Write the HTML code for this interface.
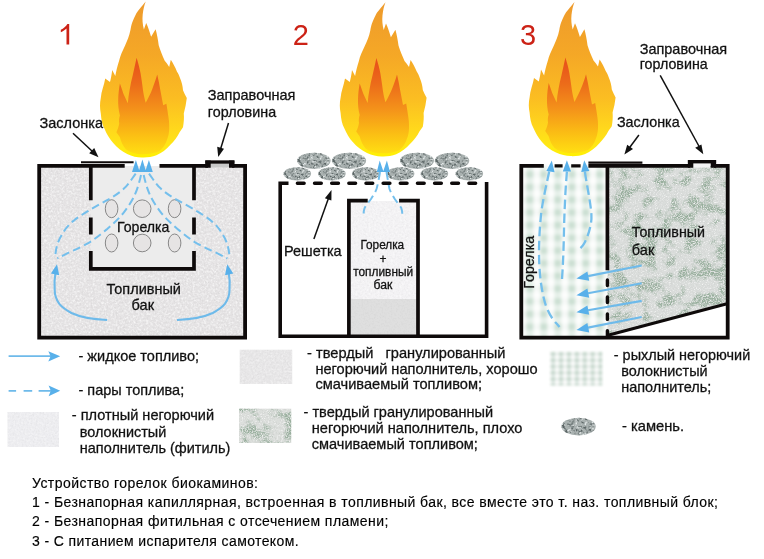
<!DOCTYPE html>
<html>
<head>
<meta charset="utf-8">
<style>
html,body{margin:0;padding:0;background:#fff;}
body{width:764px;height:559px;overflow:hidden;}
svg{display:block;will-change:transform;}
text{font-family:"Liberation Sans",sans-serif;fill:#111;stroke:#111;stroke-width:0.28px;}
.lbl{font-size:14.3px;}
.leg{font-size:14.5px;}
.cap{font-size:14px;fill:#000;stroke:#000;stroke-width:0.15px;}
.num{font-size:29px;fill:#cc2216;stroke:none;}
.w{stroke:#0e0a0a;stroke-width:4;fill:none;stroke-linecap:butt;}
.bd{stroke:#74bfec;stroke-width:2;fill:none;stroke-dasharray:8 4.2;}
.bs{stroke:#6ebaea;stroke-width:2.1;fill:none;}
.ah{fill:#58b0ea;}
.ar{stroke:#111;stroke-width:1.5;fill:none;}
</style>
</head>
<body>
<svg width="764" height="559" viewBox="0 0 764 559">
<defs>
  <linearGradient id="gOut" x1="0" y1="2" x2="0" y2="157" gradientUnits="userSpaceOnUse">
    <stop offset="0" stop-color="#ee9a2c"/>
    <stop offset="0.35" stop-color="#f5a826"/>
    <stop offset="0.62" stop-color="#fbbd22"/>
    <stop offset="0.82" stop-color="#ffd81c"/>
    <stop offset="0.94" stop-color="#ffe914"/>
    <stop offset="1" stop-color="#fff000"/>
  </linearGradient>
  <linearGradient id="gIn" x1="0" y1="58" x2="0" y2="152" gradientUnits="userSpaceOnUse">
    <stop offset="0" stop-color="#e74e1a"/>
    <stop offset="0.28" stop-color="#ec6c1a"/>
    <stop offset="0.55" stop-color="#f4931a"/>
    <stop offset="0.8" stop-color="#fbbd14"/>
    <stop offset="1" stop-color="#ffdc12"/>
  </linearGradient>
  <g id="flame">
    <path fill="url(#gOut)" d="M385.5,2.3 C381,8 377,12 375.6,15.2 C372,22 371,26 370.3,30.4 C369,37 367,41 365,45.6 C362,52 360,56 358.9,60.9 C357,67 356,71 355.1,76 L352,70 C351.5,75 350.5,79 349.8,82 L345,78.4 C344,85 341,91 340.6,97.8 C339.5,103 339.6,108 340.6,113 C341,119 342,124 344.3,128.2 C346.5,133.5 349.3,138.2 353,142.3 C356.8,146.8 361.5,150.4 367,153 C371.8,155.3 376.8,156.5 381.7,156.5 C386.8,156.7 391.6,156 396.2,154.3 C401.5,152 406.2,148.3 410.2,143.8 C414,140.2 417,136.2 419.4,131.5 L422.8,126.7 C423.6,122 424,117.5 423.6,113 C425,108 426,103 426.6,97.8 C425,95 423.8,92.5 422.8,90 C422.5,86 421.5,82 419.8,78 C419,75.5 418,73.5 416.7,71.5 C415,67.5 413,63.5 410.6,60 L409,67 C407.5,64.5 406,62.5 404.5,60.9 C402,55.5 400,50.5 398.5,45.6 C397.8,40 396.8,34.5 395.4,29.7 L390.9,37.3 C389.5,32.5 388,28 386,23.6 L383.7,30 C382.4,25 382,20 382.5,15.2 C383,10.5 384,6 385.5,2.3 Z"/>
    <path fill="url(#gIn)" d="M376.4,57.9 C378,63 379.5,68.5 380.4,73.6 C381.3,79 382.2,85 382.9,90.7 C383.6,95 384.5,99 385.5,102.3 C388,97.5 390.5,93 392,89 C394,84 395.8,79 397,74.6 C398.2,79.5 399.2,84.5 400,89.4 C401,94.5 402,100 403,105 L406.2,103.5 C406.8,107.5 407.5,111 408,115 C408.8,119.5 409.2,124 409,128.7 C408.8,132.5 408.2,135.8 407,138.6 C405.5,143.5 402.8,147.5 399,150.4 C393,152.8 386.5,153.6 379.4,153.3 C374,152.8 369.5,151.2 365.6,148.4 C362.8,145.2 360.8,141.2 359.7,136.6 L356.2,131.5 C357.5,129 358.5,126 359,123 C358.6,120.5 358.8,117.5 359.7,115 C358.4,110 357.8,104.5 358,99 C358.2,93.5 358.8,88.5 359.7,83.5 C361,87 362.2,90.5 363.2,93.5 C364.8,97 366.3,100 367.6,103 C368,98.5 368.6,94 369.5,89.4 C370.3,84.5 371.3,80 372.5,75.6 C373.8,69.5 375.2,63.5 376.4,57.9 Z"/>
  </g>
  <filter color-interpolation-filters="sRGB" id="spk" x="0" y="0" width="100%" height="100%">
    <feTurbulence type="fractalNoise" baseFrequency="0.55" numOctaves="2" seed="3" result="n"/>
    <feColorMatrix type="matrix" values="0 0 0 0 0.55  0 0 0 0 0.55  0 0 0 0 0.55  1.8 0 0 0 -0.78"/>
    <feComposite operator="in" in2="SourceGraphic"/>
  </filter>
  <filter color-interpolation-filters="sRGB" id="spkW" x="0" y="0" width="100%" height="100%">
    <feTurbulence type="fractalNoise" baseFrequency="0.45" numOctaves="2" seed="8" result="n"/>
    <feColorMatrix type="matrix" values="0 0 0 0 1  0 0 0 0 1  0 0 0 0 1  2.2 0 0 0 -0.95"/>
    <feComposite operator="in" in2="SourceGraphic"/>
  </filter>
  <filter color-interpolation-filters="sRGB" id="spkG" x="0" y="0" width="100%" height="100%">
    <feTurbulence type="fractalNoise" baseFrequency="0.07 0.075" numOctaves="3" seed="5" result="lo"/>
    <feColorMatrix in="lo" type="matrix" values="0 0 0 0 0.60  0 0 0 0 0.69  0 0 0 0 0.62  4.5 0 0 0 -2.0" result="loA"/>
    <feTurbulence type="fractalNoise" baseFrequency="0.8" numOctaves="2" seed="21" result="hi"/>
    <feColorMatrix in="hi" type="matrix" values="0 0 0 0 0.60  0 0 0 0 0.69  0 0 0 0 0.62  0 4 0 0 -1.2" result="hiA"/>
    <feComposite in="hiA" in2="loA" operator="in" result="blot"/>
    <feTurbulence type="fractalNoise" baseFrequency="0.85" numOctaves="2" seed="33" result="w"/>
    <feColorMatrix in="w" type="matrix" values="0 0 0 0 0.97  0 0 0 0 0.97  0 0 0 0 0.97  0 0 3 0 -1.55" result="wA"/>
    <feMerge result="m"><feMergeNode in="blot"/><feMergeNode in="wA"/></feMerge>
    <feComposite in="m" in2="SourceGraphic" operator="in"/>
  </filter>
  <filter color-interpolation-filters="sRGB" id="spkD" x="0" y="0" width="100%" height="100%">
    <feTurbulence type="fractalNoise" baseFrequency="0.7" numOctaves="2" seed="11" result="n"/>
    <feColorMatrix type="matrix" values="0 0 0 0 0.25  0 0 0 0 0.28  0 0 0 0 0.27  3 0 0 0 -1.3"/>
    <feComposite operator="in" in2="SourceGraphic"/>
  </filter>
  <pattern id="plaid" x="526.4" y="171.3" width="14" height="12.7" patternUnits="userSpaceOnUse">
    <rect width="14" height="12.7" fill="#fcfdfc"/>
    <rect x="0" y="0" width="6.8" height="12.7" fill="#e6f0e9"/>
    <rect x="0" y="0" width="14" height="6.2" fill="#d5e5da" opacity="0.2"/>
    <rect x="0" y="0" width="6.8" height="6.2" fill="#bad6c4" opacity="0.6"/>
  </pattern>
  <filter color-interpolation-filters="sRGB" id="blur1" x="-5%" y="-5%" width="110%" height="110%"><feGaussianBlur stdDeviation="1.6"/></filter>
  <pattern id="plaid2" x="551.2" y="352.4" width="7.9" height="6.3" patternUnits="userSpaceOnUse">
    <rect width="7.9" height="6.3" fill="#fafbfa"/>
    <rect x="0" y="0" width="3.9" height="6.3" fill="#e0eae4"/>
    <rect x="0" y="0" width="7.9" height="3.1" fill="#c9d8cf" opacity="0.35"/>
    <rect x="0" y="0" width="3.9" height="3.1" fill="#b9cdc2" opacity="0.5"/>
  </pattern>
  <filter color-interpolation-filters="sRGB" id="blur2" x="-5%" y="-5%" width="110%" height="110%"><feGaussianBlur stdDeviation="0.8"/></filter>
  <filter color-interpolation-filters="sRGB" id="stn" x="0" y="0" width="100%" height="100%">
    <feTurbulence type="fractalNoise" baseFrequency="0.38" numOctaves="2" seed="7" result="n"/>
    <feColorMatrix in="n" type="matrix" values="0 0 0 0 0.36  0 0 0 0 0.40  0 0 0 0 0.40  5 0 0 0 -2.45" result="dk"/>
    <feColorMatrix in="n" type="matrix" values="0 0 0 0 0.88  0 0 0 0 0.90  0 0 0 0 0.90  0 -5 0 0 2.25" result="lt"/>
    <feMerge result="m"><feMergeNode in="dk"/><feMergeNode in="lt"/></feMerge>
    <feComposite in="m" in2="SourceGraphic" operator="in"/>
  </filter>
  <g id="stone">
    <ellipse rx="13.5" ry="7" fill="#a9b1b0"/>
    <ellipse rx="13.5" ry="7" fill="#000" filter="url(#stn)"/>
  </g>
</defs>

<!-- ================= DIAGRAM 1 ================= -->
<g id="d1">
  <rect x="39" y="166" width="206" height="172" fill="#e5e3e4"/>
  <rect x="39" y="166" width="206" height="172" fill="#fff" filter="url(#spkW)" opacity="0.8"/>
  <rect x="39" y="166" width="206" height="172" fill="#000" filter="url(#spk)" opacity="0.14"/>
  <rect x="91" y="166" width="103" height="103" fill="#ececec"/>
  <!-- filler neck -->
  <rect x="209" y="163" width="22" height="4.4" fill="#c9c9c9"/>
  <!-- ellipses -->
  <g fill="#e6e4e4" stroke="#7d7d7d" stroke-width="0.9">
    <ellipse cx="111.6" cy="208.7" rx="6.3" ry="9"/>
    <ellipse cx="142.2" cy="208.7" rx="8.8" ry="8.8"/>
    <ellipse cx="174.6" cy="208.7" rx="6.3" ry="9"/>
    <ellipse cx="111.6" cy="243" rx="6.3" ry="9"/>
    <ellipse cx="142.2" cy="243" rx="8.8" ry="8.8"/>
    <ellipse cx="174.6" cy="243" rx="6.3" ry="9"/>
  </g>
  <!-- vapour dashed paths -->
  <path class="bd" d="M135.7,173.6 C131,180 128,185 123.9,188.6 C118,194 112,197.5 106.7,200.4 C101,203.5 95,207 89.6,210.1 C84,213.5 78,217 73.4,220.9 C69.5,224 66,228 63.8,231.6 C61,236 58.5,240.5 57.3,244.5 C56,249 55.4,253 55.2,257.4"/>
  <path class="bd" d="M141,175 C139,184 137,190 134.7,195 C132,201 128,207 123.9,212.3 C119,218.5 113,224 106.7,229.4 C101,234 95.5,238.5 89.6,242.3 C84,245.5 78,248.5 72.4,250.9 C67,253.5 62,256 57.3,258.4"/>
  <path class="bd" d="M149.0,173.6 C153.7,180 156.7,185 160.8,188.6 C166.7,194 172.7,197.5 178.0,200.4 C183.7,203.5 189.7,207 195.1,210.1 C200.7,213.5 206.7,217 211.3,220.9 C215.2,224 218.7,228 220.9,231.6 C223.7,236 226.2,240.5 227.4,244.5 C228.7,249 229.3,253 229.5,257.4"/>
  <path class="bd" d="M143.7,175 C145.7,184 147.7,190 150.0,195 C152.7,201 156.7,207 160.8,212.3 C165.7,218.5 171.7,224 178.0,229.4 C183.7,234 189.2,238.5 195.1,242.3 C200.7,245.5 206.7,248.5 212.3,250.9 C217.7,253.5 222.7,256 227.4,258.4"/>
  <!-- arrowheads top -->
  <path class="ah" d="M135.9,160 L139.7,172 L132,172 Z M142.4,159.6 L146.2,172 L138.6,172 Z M148.9,160 L152.8,172 L145.1,172 Z"/>
  <!-- liquid arrows -->
  <path class="bs" d="M107.2,320 C95,319.5 80,317 71.5,313 C65,309.5 61,306 59.3,303.9 C56,299 54.7,294 54.7,290.2 C54.2,284 54.5,278 55.4,273.5"/>
  <path class="ah" d="M57,264.2 L59.2,275.2 L50.9,273.6 Z"/>
  <path class="bs" d="M177.0,320 C189.2,319.5 204.2,317 212.7,313 C219.2,309.5 223.2,306 224.9,303.9 C228.2,299 229.5,294 229.5,290.2 C230.0,284 229.7,278 228.8,273.5"/>
  <path class="ah" d="M227.2,264.2 L225,275.2 L233.3,273.6 Z"/>
  <!-- walls -->
  <path class="w" d="M124.7,165.8 L39.2,165.8 L39.2,337.7 L245.1,337.7 L245.1,165.8 L232,165.8 M208,165.8 L159.5,165.8" style="stroke-width:3.8"/>
  <path class="w" d="M205.3,162 L234.4,162" style="stroke-width:3.3"/>
  <path class="w" d="M208,160.4 L208,167.7 M231.7,160.4 L231.7,167.7" style="stroke-width:5.4"/>
  <path class="w" d="M81,162.3 L133.6,162.3" style="stroke-width:2.1"/>
  <path class="w" d="M90.8,166 L90.8,200.2 M90.8,217.5 L90.8,234.4 M90.8,250.9 L90.8,270.7 M194,166 L194,200.2 M194,217.5 L194,234.4 M194,250.9 L194,270.7 M89,268.9 L195.8,268.9" style="stroke-width:3.7"/>
  <text class="lbl" x="117" y="231.7" textLength="52.5" lengthAdjust="spacingAndGlyphs">Горелка</text>
  <text class="lbl" x="106.6" y="294.2" textLength="74.3" lengthAdjust="spacingAndGlyphs">Топливный</text>
  <text class="lbl" x="131.6" y="310" textLength="22.5" lengthAdjust="spacingAndGlyphs">бак</text>
</g>
<use href="#flame" transform="translate(-239.8,-0.9) scale(1,1.012)"/>
<path fill="#cc2216" d="M69.2,44.4 L66.5,44.4 L66.5,28.6 C65,30.1 63,31.4 60.8,32.3 L60.8,29.8 C63.5,28.5 66,26.3 67.4,23.9 L69.2,23.9 Z"/>
<text class="lbl" x="39.5" y="127.5" textLength="63.5" lengthAdjust="spacingAndGlyphs">Заслонка</text>
<path class="ar" d="M73,133.2 L96,154.8"/>
<path d="M98.5,157.2 L89.2,153.2 L94.2,148 Z" fill="#111"/>
<text class="lbl" x="207.8" y="100.2" textLength="87.6" lengthAdjust="spacingAndGlyphs">Заправочная</text>
<text class="lbl" x="207.8" y="116.7" textLength="68.3" lengthAdjust="spacingAndGlyphs">горловина</text>
<path class="ar" d="M228.5,123 L219.2,153.5"/>
<path d="M218.2,157 L217.2,146.8 L224,148.8 Z" fill="#111"/>

<!-- ================= DIAGRAM 2 ================= -->
<g id="d2">
  <rect x="351" y="201" width="66" height="100" fill="#f3f2f4"/>
  <rect x="351" y="201" width="66" height="100" fill="#000" filter="url(#spk)" opacity="0.1"/>
  <rect x="351" y="201" width="66" height="100" fill="#fff" filter="url(#spkW)" opacity="0.6"/>
  <rect x="351" y="299" width="66" height="38" fill="#dfdfdf"/>
  <rect x="351" y="299" width="66" height="38" fill="#000" filter="url(#spk)" opacity="0.1"/>
  <!-- stones -->
  <g transform="translate(313.9,160.8) scale(1.24,1.16)"><use href="#stone"/></g>
  <g transform="translate(349,160.8) scale(1.27,1.16)"><use href="#stone"/></g>
  <g transform="translate(417,160.8) scale(1.26,1.16)"><use href="#stone"/></g>
  <g transform="translate(452,160.8) scale(1.28,1.16)"><use href="#stone"/></g>
  <g transform="translate(297.3,173.8) scale(1.02,0.95)"><use href="#stone"/></g>
  <g transform="translate(331.9,173.8) scale(1.02,0.95)"><use href="#stone"/></g>
  <g transform="translate(365.7,173.8) scale(1.02,0.95)"><use href="#stone"/></g>
  <g transform="translate(400.6,173.8) scale(1.02,0.95)"><use href="#stone"/></g>
  <g transform="translate(434.4,173.8) scale(1.02,0.95)"><use href="#stone"/></g>
  <g transform="translate(469.3,173.8) scale(1.02,0.95)"><use href="#stone"/></g>
  <!-- vapour -->
  <path class="bd" d="M380,172 C379,178 378,184 376.5,189 C375,193 373,196 371,199 C368,203 365.5,206 364.6,208 C363.5,211 363.5,214 364,217" style="stroke-dasharray:8 4.5"/>
  <path class="bd" d="M386.5,172 C387.5,178 388.5,184 389.5,189 C391,193 393,196 394.8,199 C397.5,203 400,206 401.3,208 C402.3,211 402.5,214 402,217" style="stroke-dasharray:8 4.5"/>
  <path class="ah" d="M379.7,160.6 L383.6,172 L376.8,172 Z M386.9,160.6 L390,172 L383,172 Z"/>
  <!-- walls -->
  <path class="w" d="M288.5,183.2 L280.2,183.2 L280.2,336.2 L486.6,336.2 L486.6,182" style="stroke-width:3.6"/>
  <path class="w" d="M297.4,183.2 L483,183.2" style="stroke-width:3.5;stroke-dasharray:6.7 10.45;stroke-linecap:round"/>
  <path class="w" d="M367.7,200.6 L348.9,200.6 L348.9,336 M399.1,200.6 L418,200.6 L418,336" style="stroke-width:3.7"/>
  <text x="360.4" y="248.8" font-size="12" textLength="43.8" lengthAdjust="spacingAndGlyphs">Горелка</text>
  <text x="383" y="263" font-size="12" text-anchor="middle">+</text>
  <text x="353.2" y="276" font-size="12" textLength="60" lengthAdjust="spacingAndGlyphs">топливный</text>
  <text x="373.6" y="288.9" font-size="12" textLength="18.8" lengthAdjust="spacingAndGlyphs">бак</text>
  <text class="lbl" x="284" y="256" textLength="57.6" lengthAdjust="spacingAndGlyphs">Решетка</text>
  <path class="ar" d="M313.9,239.1 L329.1,196.6"/>
  <path d="M331.5,190 L331.4,200.6 L324.9,198.3 Z" fill="#111"/>
</g>
<use href="#flame"/>
<text class="num" x="292.8" y="44.8">2</text>

<!-- ================= DIAGRAM 3 ================= -->
<g id="d3">
  <rect x="521" y="166" width="87" height="172" fill="url(#plaid)" filter="url(#blur1)"/>
  <path d="M607.5,166 L728,166 L728,303.8 L607.5,336.5 Z" fill="#dadddb"/>
  <path d="M607.5,166 L728,166 L728,303.8 L607.5,336.5 Z" fill="#fff" filter="url(#spkG)" opacity="1"/>
  <path d="M607.5,166 L728,166 L728,303.8 L607.5,336.5 Z" fill="#000" filter="url(#spk)" opacity="0.15"/>
  <rect x="693" y="163" width="17" height="4.6" fill="#f4f4f4"/>
  <!-- vapour -->
  <path class="bd" d="M549.2,171.6 C547.5,180 546,186 544.6,193.2 C543,201 541.8,208 541,214.8 C539.5,230 538.6,248 539.2,262 C539.8,278 542,294 546,306 C549,314 553,320 557,324 L559.5,327" style="stroke-width:2.3;stroke-dasharray:9.5 4.5"/>
  <path class="bd" d="M566.9,171.6 C566.3,180 565.8,186 565.4,193.2 C564.8,206 564.2,218 564,230 C563.7,245 563.2,262 562,279" style="stroke-width:2.3;stroke-dasharray:9.5 4.5"/>
  <path class="bd" d="M584.9,171.6 C586,180 587.3,186 588.5,193.2 C589.8,201 591,208 591.4,214.8 C591.6,219 591.3,222 590.6,225 C589.5,231 587.5,237 585,242 C583.5,245 581.5,247.5 579,249.5" style="stroke-width:2.3;stroke-dasharray:9.5 4.5"/>
  <path class="ah" d="M551.8,160.6 L554.6,172.2 L546.4,171 Z M566.9,160.2 L571,171.4 L562.8,171.4 Z M584.2,160.2 L589.4,171 L581.2,172 Z"/>
  <!-- liquid arrows -->
  <g>
    <path class="bs" d="M641.7,265.5 L588,276.1"/><path class="ah" d="M576.4,278.4 L587.4,271.4 L589.2,280.8 Z"/>
    <path class="bs" d="M641.7,283.2 L588,293.2"/><path class="ah" d="M576.4,295.3 L587.4,288.4 L589.2,297.8 Z"/>
    <path class="bs" d="M641.7,300.9 L588,310.2"/><path class="ah" d="M576.4,312.2 L587.4,305.4 L589.2,314.8 Z"/>
    <path class="bs" d="M641.7,317 L588,327.6"/><path class="ah" d="M576.4,329.9 L587.4,323 L589.2,332.4 Z"/>
  </g>
  <!-- walls -->
  <path class="w" d="M543.8,165.8 L521.3,165.8 L521.3,337.7 L727.7,337.7 L727.7,165.8 L714,165.8 M690,165.8 L588.4,165.8" style="stroke-width:3.8"/>
  <path class="w" d="M554.6,165.8 L562.6,165.8 M571.2,165.8 L580.6,165.8" style="stroke-width:3.2"/>
  <path class="w" d="M607.4,166 L607.4,270.3" style="stroke-width:3.7"/>
  <path class="w" d="M607.4,280 L607.4,285.6 M607.4,297 L607.4,302.5 M607.4,313.9 L607.4,319.4 M607.4,330.7 L607.4,336" style="stroke-width:3.4;stroke-linecap:round"/>
  <path class="w" d="M608,335.2 L727,303.8" style="stroke-width:3"/>
  <path class="w" d="M588.4,162.7 L642.4,162.7" style="stroke-width:2.2"/>
  <path class="w" d="M687.9,161.7 L716.1,161.7" style="stroke-width:3.4"/>
  <path class="w" d="M690.6,160 L690.6,167.7 M713.4,160 L713.4,167.7" style="stroke-width:5.4"/>
  <text class="lbl" x="631.8" y="237" textLength="73.2" lengthAdjust="spacingAndGlyphs">Топливный</text>
  <text class="lbl" x="631.8" y="254.7" textLength="22.5" lengthAdjust="spacingAndGlyphs">бак</text>
  <text class="lbl" transform="translate(534.4,288.8) rotate(-90)" textLength="53" lengthAdjust="spacingAndGlyphs">Горелка</text>
</g>
<use href="#flame" transform="translate(189,-0.4)"/>
<text class="num" x="520" y="44.5">3</text>
<text class="lbl" x="639.7" y="53.5" textLength="87.4" lengthAdjust="spacingAndGlyphs">Заправочная</text>
<text class="lbl" x="639.7" y="68.8" textLength="68" lengthAdjust="spacingAndGlyphs">горловина</text>
<path class="ar" d="M660.2,75.4 L701.6,151"/>
<path d="M703.3,154.2 L695.2,147.8 L701.4,144.4 Z" fill="#111"/>
<text class="lbl" x="616.9" y="127.3" textLength="62.8" lengthAdjust="spacingAndGlyphs">Заслонка</text>
<path class="ar" d="M638.9,135 L626.5,151.8"/>
<path d="M624.4,154.6 L627.2,144.8 L633,149 Z" fill="#111"/>

<!-- ================= LEGEND ================= -->
<g id="legend">
  <path class="bs" d="M8.6,356.2 L51,356.2" style="stroke-width:1.8"/><path class="ah" d="M60.2,356.3 L48.3,351.2 L50.6,356.3 L48.3,361.5 Z"/>
  <path class="bs" d="M8.6,390.9 L16.1,390.9 M23.6,390.9 L32.2,390.9 M38.6,390.9 L51,390.9" style="stroke-width:1.9"/><path class="ah" d="M60.2,390.8 L48.6,385.5 L50.8,390.8 L48.6,396.2 Z"/>
  <text class="leg" x="78.5" y="361" textLength="120.5" lengthAdjust="spacingAndGlyphs">- жидкое топливо;</text>
  <text class="leg" x="78.5" y="394.5" textLength="105.7" lengthAdjust="spacingAndGlyphs">- пары топлива;</text>
  <rect x="7.5" y="412" width="51.5" height="35" fill="#ededf0"/>
  <rect x="7.5" y="412" width="51.5" height="35" fill="#000" filter="url(#spk)" opacity="0.1"/>
  <rect x="7.5" y="412" width="51.5" height="35" fill="#fff" filter="url(#spkW)" opacity="0.45"/>
  <text class="leg" x="71.8" y="420.2" textLength="142.3" lengthAdjust="spacingAndGlyphs">- плотный негорючий</text>
  <text class="leg" x="79.8" y="436.5" textLength="86.5" lengthAdjust="spacingAndGlyphs">волокнистый</text>
  <text class="leg" x="79.8" y="453" textLength="150.5" lengthAdjust="spacingAndGlyphs">наполнитель (фитиль)</text>

  <rect x="239.7" y="349.7" width="52.5" height="34.3" fill="#e7e6e7"/>
  <rect x="239.7" y="349.7" width="52.5" height="34.3" fill="#000" filter="url(#spk)" opacity="0.12"/>
  <rect x="239.7" y="349.7" width="52.5" height="34.3" fill="#fff" filter="url(#spkW)" opacity="0.5"/>
  <text class="leg" x="307.1" y="358.4" xml:space="preserve" textLength="198.4" lengthAdjust="spacingAndGlyphs">- твердый   гранулированный</text>
  <text class="leg" x="315.4" y="373.7" textLength="222.2" lengthAdjust="spacingAndGlyphs">негорючий наполнитель, хорошо</text>
  <text class="leg" x="315.4" y="389.2" textLength="166.6" lengthAdjust="spacingAndGlyphs">смачиваемый топливом;</text>
  <rect x="239" y="408.7" width="52.2" height="34.3" fill="#dcdfdc"/>
  <rect x="239" y="408.7" width="52.2" height="34.3" fill="#fff" filter="url(#spkG)"/>
  <rect x="239" y="408.7" width="52.2" height="34.3" fill="#000" filter="url(#spk)" opacity="0.2"/>
  <text class="leg" x="303.6" y="417" textLength="189.4" lengthAdjust="spacingAndGlyphs">- твердый гранулированный</text>
  <text class="leg" x="311.8" y="433" textLength="210.6" lengthAdjust="spacingAndGlyphs">негорючий наполнитель, плохо</text>
  <text class="leg" x="311.8" y="448.9" textLength="166.1" lengthAdjust="spacingAndGlyphs">смачиваемый топливом;</text>

  <rect x="549.7" y="351.6" width="52.7" height="34" fill="url(#plaid2)" filter="url(#blur2)"/>
  <text class="leg" x="613.8" y="359.8" textLength="136.4" lengthAdjust="spacingAndGlyphs">- рыхлый негорючий</text>
  <text class="leg" x="621.2" y="375.9" textLength="86.4" lengthAdjust="spacingAndGlyphs">волокнистый</text>
  <text class="leg" x="621.2" y="391.9" textLength="90.2" lengthAdjust="spacingAndGlyphs">наполнитель;</text>
  <g transform="translate(578.6,426.6) scale(1.27,1.26)"><use href="#stone"/></g>
  <text class="leg" x="622" y="430.7" textLength="62" lengthAdjust="spacingAndGlyphs">- камень.</text>
</g>

<!-- ================= CAPTION ================= -->
<g id="caption">
  <text class="cap" x="32" y="487.5" textLength="226" lengthAdjust="spacing">Устройство горелок биокаминов:</text>
  <text class="cap" x="32" y="507.2" textLength="686" lengthAdjust="spacing">1 - Безнапорная капиллярная, встроенная в топливный бак, все вместе это т. наз. топливный блок;</text>
  <text class="cap" x="32" y="526.4" textLength="356.3" lengthAdjust="spacing">2 - Безнапорная фитильная с отсечением пламени;</text>
  <text class="cap" x="32" y="545.6" textLength="266.6" lengthAdjust="spacing">3 - С питанием испарителя самотеком.</text>
</g>
</svg>
</body>
</html>
